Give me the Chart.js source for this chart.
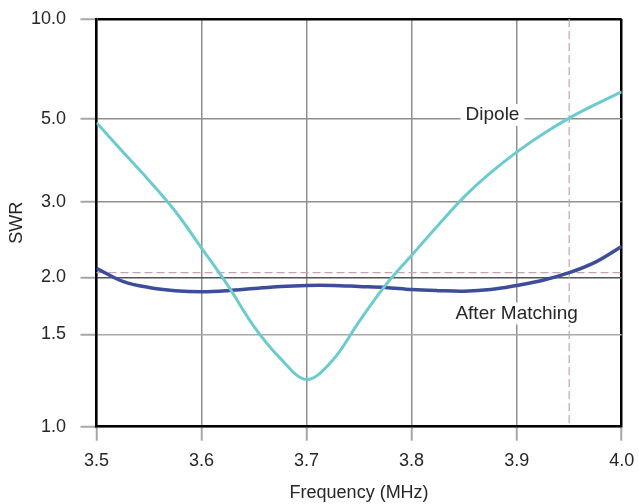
<!DOCTYPE html>
<html>
<head>
<meta charset="utf-8">
<title>SWR vs Frequency</title>
<script src="https://cdn.jsdelivr.net/npm/chart.js@4.4.1/dist/chart.umd.min.js"></script>
<style>
  html, body { margin: 0; padding: 0; background: #ffffff; }
  canvas { display: block; }
</style>
</head>
<body>
<canvas id="swr" width="639" height="504"></canvas>
<script>
// Frequency sweep across the 80 m band (MHz)
const FREQ_MHZ = [3.500, 3.525, 3.550, 3.575, 3.600, 3.625, 3.650, 3.675, 3.700, 3.725,
                  3.750, 3.775, 3.800, 3.825, 3.850, 3.875, 3.900, 3.925, 3.950, 3.975, 4.000];

// Bare dipole SWR
const DIPOLE_SWR = [4.88, 4.08, 3.42, 2.85, 2.34, 1.92, 1.56, 1.35, 1.23, 1.34,
                    1.60, 1.92, 2.25, 2.64, 3.09, 3.58, 4.07, 4.55, 5.02, 5.52, 6.03];

// SWR with the matching network in place
const MATCHED_SWR = [2.10, 1.96, 1.90, 1.87, 1.86, 1.87, 1.89, 1.91, 1.92, 1.92,
                     1.91, 1.90, 1.88, 1.87, 1.865, 1.88, 1.92, 1.97, 2.05, 2.17, 2.36];

// Axis ticks
const FREQ_TICKS = [3.5, 3.6, 3.7, 3.8, 3.9, 4.0];
const SWR_TICKS = [1.0, 1.5, 2.0, 3.0, 5.0, 10.0];

// Reference marker: band edge frequency and the SWR the matched antenna reaches there
const MARKER_FREQ = 3.95;
const MARKER_SWR = 2.05;

// Curve names written on the plot, with their anchor points (MHz, SWR)
const CURVE_NAMES = ['Dipole', 'After Matching'];
const NAME_FREQ = [3.877, 3.90];
const NAME_SWR = [5.13, 1.667];

const FONT = "'Liberation Sans', Arial, Helvetica, sans-serif";
const TEXT = '#262626';

// SWR axis: logarithmic within each section, each section given its own share of the height
const SWR_AXIS_STOPS = [[1, 0], [1.5, 0.2264], [2, 0.3664], [3, 0.5519], [5, 0.7555], [10, 1]];

function swrToDecimal(v) {
  let i = 1;
  while (i < SWR_AXIS_STOPS.length - 1 && v > SWR_AXIS_STOPS[i][0]) i++;
  const [v0, d0] = SWR_AXIS_STOPS[i - 1];
  const [v1, d1] = SWR_AXIS_STOPS[i];
  const l0 = Math.log10(v0), l1 = Math.log10(v1);
  return d0 + (Math.log10(v) - l0) / (l1 - l0) * (d1 - d0);
}

function decimalToSwr(d) {
  let i = 1;
  while (i < SWR_AXIS_STOPS.length - 1 && d > SWR_AXIS_STOPS[i][1]) i++;
  const [v0, d0] = SWR_AXIS_STOPS[i - 1];
  const [v1, d1] = SWR_AXIS_STOPS[i];
  const l0 = Math.log10(v0), l1 = Math.log10(v1);
  return Math.pow(10, l0 + (d - d0) / (d1 - d0) * (l1 - l0));
}

class SwrScale extends Chart.LinearScale {
  determineDataLimits() {
    this.min = SWR_TICKS[0];
    this.max = SWR_TICKS[SWR_TICKS.length - 1];
  }
  buildTicks() {
    return SWR_TICKS.map(value => ({ value }));
  }
  getPixelForValue(value) {
    if (value === null || value === undefined || isNaN(value)) return NaN;
    return this.getPixelForDecimal(swrToDecimal(value));
  }
  getValueForPixel(pixel) {
    return decimalToSwr(this.getDecimalForPixel(pixel));
  }
}
SwrScale.id = 'swr';
SwrScale.defaults = {};
Chart.register(SwrScale);

// Fixed axis band sizes; the layout padding alone decides where the plot frame sits
function fixAxisSize(prop, size) {
  return s => {
    s[prop] = size;
    s.paddingTop = 0;
    s.paddingBottom = 0;
    s.paddingLeft = 0;
    s.paddingRight = 0;
  };
}

// Dashed marker lines and the curve names
const overlayPlugin = {
  id: 'swrOverlay',
  beforeDatasetsDraw(chart) {
    const { ctx, chartArea: a, scales: { x, y } } = chart;
    const px = x.getPixelForValue(MARKER_FREQ);
    const py = y.getPixelForValue(MARKER_SWR);
    ctx.save();
    ctx.strokeStyle = '#c6a2b4';
    ctx.lineWidth = 1.2;
    ctx.setLineDash([8, 4]);
    ctx.beginPath();
    ctx.moveTo(px, a.top);
    ctx.lineTo(px, a.bottom);
    ctx.moveTo(a.left, py);
    ctx.lineTo(a.right, py);
    ctx.stroke();
    ctx.setLineDash([]);

    ctx.font = `19px ${FONT}`;
    ctx.textAlign = 'center';
    ctx.textBaseline = 'middle';
    CURVE_NAMES.forEach((name, i) => {
      const cx = x.getPixelForValue(NAME_FREQ[i]);
      const cy = y.getPixelForValue(NAME_SWR[i]);
      const w = ctx.measureText(name).width;
      ctx.fillStyle = '#ffffff';
      ctx.fillRect(cx - w / 2 - 5, cy - 11, w + 10, 22);
      ctx.fillStyle = TEXT;
      ctx.fillText(name, cx, cy);
    });
    ctx.restore();
  }
};

const points = values => FREQ_MHZ.map((f, i) => ({ x: f, y: values[i] }));

const xEdge = v => Math.abs(v - FREQ_TICKS[FREQ_TICKS.length - 1]) < 1e-9;
const yEdge = v => Math.abs(v - SWR_TICKS[SWR_TICKS.length - 1]) < 1e-9;
const yGridColor = v => {
  if (yEdge(v)) return '#000000';
  if (Math.abs(v - 2.0) < 1e-9) return '#555555';
  if (Math.abs(v - 1.5) < 1e-9) return '#a8a8a8';
  return '#8f8f8f';
};

new Chart(document.getElementById('swr'), {
  type: 'line',
  data: {
    datasets: [
      {
        label: CURVE_NAMES[0],
        data: points(DIPOLE_SWR),
        borderColor: '#6ccbcf',
        borderWidth: 3,
        pointRadius: 0,
        fill: false,
        tension: 0.35
      },
      {
        label: CURVE_NAMES[1],
        data: points(MATCHED_SWR),
        borderColor: '#3e4d99',
        borderWidth: 3.5,
        pointRadius: 0,
        fill: false,
        tension: 0.35
      }
    ]
  },
  options: {
    responsive: false,
    animation: false,
    devicePixelRatio: 1,
    layout: { padding: { top: 19, right: 17.3, bottom: 0, left: 0 } },
    plugins: {
      legend: { display: false },
      tooltip: { enabled: false }
    },
    scales: {
      x: {
        type: 'linear',
        min: FREQ_TICKS[0],
        max: FREQ_TICKS[FREQ_TICKS.length - 1],
        afterBuildTicks: s => { s.ticks = FREQ_TICKS.map(value => ({ value })); },
        afterFit: fixAxisSize('height', 77.3),
        grid: {
          color: c => xEdge(c.tick.value) ? '#000000' : '#8f8f8f',
          lineWidth: c => xEdge(c.tick.value) ? 2.5 : 1.5,
          tickLength: 14,
          tickColor: '#a6a6a6',
          tickWidth: 2
        },
        border: { display: true, color: '#000000', width: 2.5 },
        ticks: {
          padding: 10,
          autoSkip: false,
          maxRotation: 0,
          color: TEXT,
          font: { family: FONT, size: 18 },
          callback: v => Number(v).toFixed(1)
        },
        title: {
          display: true,
          text: 'Frequency (MHz)',
          color: TEXT,
          font: { family: FONT, size: 18 },
          padding: { top: 0, bottom: 0 }
        }
      },
      y: {
        type: 'swr',
        position: 'left',
        afterFit: fixAxisSize('width', 96.5),
        grid: {
          color: c => yGridColor(c.tick.value),
          lineWidth: c => yEdge(c.tick.value) ? 2.5 : 1.5,
          tickLength: 16,
          tickColor: '#a6a6a6',
          tickWidth: 2
        },
        border: { display: true, color: '#000000', width: 2.5 },
        ticks: {
          padding: 14.5,
          autoSkip: false,
          color: TEXT,
          font: { family: FONT, size: 18 },
          callback: v => Number(v).toFixed(1)
        },
        title: {
          display: true,
          text: 'SWR',
          color: TEXT,
          font: { family: FONT, size: 18 },
          padding: { top: 6.7, bottom: 0 }
        }
      }
    }
  },
  plugins: [overlayPlugin]
});
</script>
</body>
</html>
